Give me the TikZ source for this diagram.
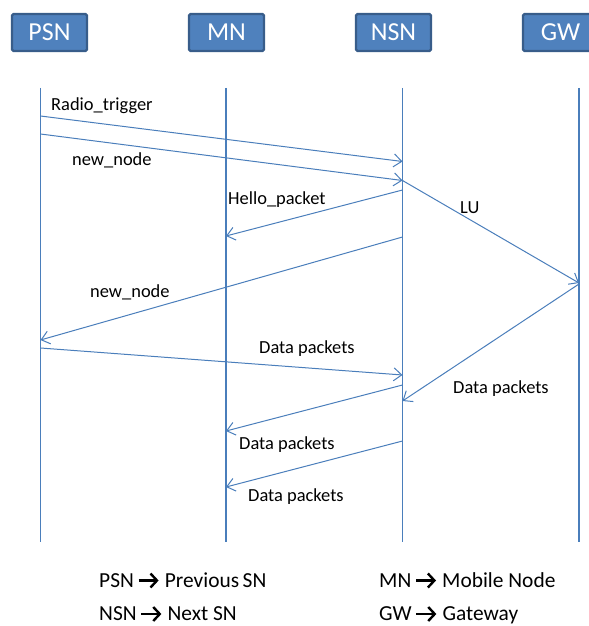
\documentclass[tikz,border=0pt]{standalone}
\usepackage{fontspec}
\setmainfont{Carlito}
\usetikzlibrary{arrows.meta}
\definecolor{boxfill}{HTML}{4F81BD}
\definecolor{boxedge}{HTML}{385D8A}
\definecolor{msg}{HTML}{4A7EBB}

\begin{document}
\begin{tikzpicture}[x=1bp,y=-1bp,
  actor/.style={draw=boxedge, fill=boxfill, line width=2.2bp, rounded corners=1.5bp,
    minimum width=75bp, minimum height=37bp, text=white, inner sep=0,
    font=\fontsize{26}{30}\selectfont},
  life/.style={draw=msg, line width=1.1bp},
  msgline/.style={draw=msg, line width=1bp,
    -{Straight Barb[length=8bp,width=13bp,line width=1bp]}},
  lbl/.style={anchor=base west, inner sep=0, font=\fontsize{18.5}{22}\selectfont},
  legend/.style={anchor=base west, inner sep=0, font=\fontsize{21.5}{26}\selectfont},
  keyarrow/.style={draw=black, line width=2.4bp,
    -{Straight Barb[length=6.5bp,width=14bp,line width=2.4bp]}}]

\clip (0,0) rectangle (589,626);

% participants
\node[actor] (psn) at (49.5,32.5) {PSN};
\node[actor] (mn)  at (226.5,32.5) {MN};
\node[actor] (nsn) at (393.5,32.5) {NSN};
\node[actor] (gw)  at (560.5,32.5) {GW};

% lifelines
\coordinate (psnT) at (40.5,88);  \coordinate (psnB) at (40.5,542);
\coordinate (mnT)  at (226,88);   \coordinate (mnB)  at (226,542);
\coordinate (nsnT) at (402.5,88); \coordinate (nsnB) at (402.5,542);
\coordinate (gwT)  at (579,88);   \coordinate (gwB)  at (579,542);
\draw[life] (psnT) -- (psnB);
\draw[life, line width=1.8bp] (mnT) -- (mnB);
\draw[life] (nsnT) -- (nsnB);
\draw[life] (gwT) -- (gwB);

% message end points on the lifelines
\coordinate (a1) at (40.5,116);  \coordinate (b1) at (402.5,161.5);
\coordinate (a2) at (40.5,134);  \coordinate (b2) at (402.5,180.5);
\coordinate (g1) at (579,283);
\coordinate (a3) at (402.5,190); \coordinate (b3) at (226,236);
\coordinate (a4) at (402.5,237); \coordinate (b4) at (40.5,340);
\coordinate (a5) at (40.5,348);  \coordinate (b5) at (402.5,375);
\coordinate (a6) at (579,284);   \coordinate (b6) at (402.5,401);
\coordinate (a7) at (402.5,385); \coordinate (b7) at (226,431);
\coordinate (a8) at (402.5,441); \coordinate (b8) at (226,487);

% messages
\draw[msgline] (a1) -- (b1);
\draw[msgline] (a2) -- (b2);
\draw[msgline] (b2) -- (g1);
\draw[msgline] (a3) -- (b3);
\draw[msgline] (a4) -- (b4);
\draw[msgline] (a5) -- (b5);
\draw[msgline] (a6) -- (b6);
\draw[msgline] (a7) -- (b7);
\draw[msgline] (a8) -- (b8);

% message labels
\node[lbl] (l1) at (51,111) {Radio\_trigger};
\node[lbl] (l2) at (72,166) {new\_node};
\node[lbl] (l3) at (228,204) {Hello\_packet};
\node[lbl] (l4) at (460,213) {LU};
\node[lbl] (l5) at (90,297) {new\_node};
\node[lbl] (l6) at (259,353) {Data packets};
\node[lbl] (l7) at (453,393) {Data packets};
\node[lbl] (l8) at (239,449) {Data packets};
\node[lbl] (l9) at (248,501) {Data packets};

% legend: abbreviation, arrow, meaning
\node[legend] (k1a) at (99,587) {PSN};
\node[legend] (k1b) at ([xshift=30.5bp]k1a.base east) {Previous\,SN};
\node[legend] (k2a) at (379,587) {MN};
\node[legend] (k2b) at ([xshift=30.5bp]k2a.base east) {Mobile Node};
\node[legend] (k3a) at (99,620.5) {NSN};
\node[legend] (k3b) at ([xshift=30.5bp]k3a.base east) {Next SN};
\node[legend] (k4a) at (379,620.5) {GW};
\node[legend] (k4b) at ([xshift=30.5bp]k4a.base east) {Gateway};
\foreach \k in {k1,k2,k3,k4}
  \draw[keyarrow] ([xshift=4.5bp,yshift=6.5bp]\k a.base east)
               -- ([xshift=-6bp,yshift=6.5bp]\k b.base west);
\end{tikzpicture}
\end{document}
